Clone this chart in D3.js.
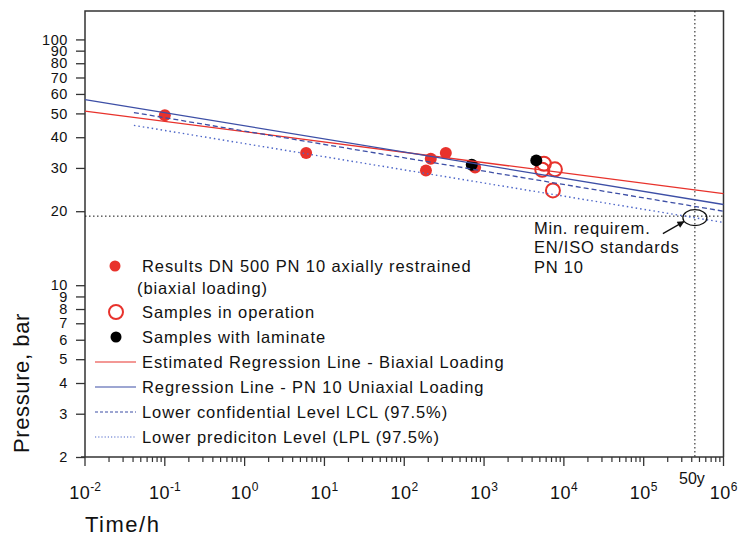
<!DOCTYPE html>
<html><head><meta charset="utf-8">
<script src="https://cdn.jsdelivr.net/npm/d3@7"></script>
<style>body{margin:0;background:#fff}svg{display:block;font-family:"Liberation Sans",Arial,sans-serif}</style>
</head><body><svg id="c" width="750" height="536"></svg>
<script>
// ---- data ----
const yTickValues = [2,3,4,5,6,7,8,9,10,20,30,40,50,60,70,80,90,100];
const xDecades = [-2,-1,0,1,2,3,4,5,6];
const biaxialT = [0.1, 5.9, 215, 332, 187, 772];
const biaxialP = [49.1, 34.5, 32.7, 34.5, 29.3, 30.1];
const operationT = [5620, 5360, 7720, 7290];
const operationP = [31.2, 29.5, 29.6, 24.3];
const laminateT = [701, 4510];
const laminateP = [30.9, 32.2];
const regBiaxialT = [0.01, 1e6], regBiaxialP = [51.1, 23.6];
const regUniaxialT = [0.01, 1e6], regUniaxialP = [56.9, 21.3];
const lclT = [0.041, 1e6], lclP = [50.4, 20.0];
const lplT = [0.041, 1e6], lplP = [44.7, 18.0];
const minRequirement = 19.1;
const fiftyYears = 50 * 8760;
const legendLabels = ["Results DN 500 PN 10 axially restrained", "(biaxial loading)", "Samples in operation",
  "Samples with laminate", "Estimated Regression Line - Biaxial Loading", "Regression Line - PN 10 Uniaxial Loading",
  "Lower confidential Level LCL (97.5%)", "Lower prediciton Level (LPL (97.5%)"];
const annotationLines = ["Min. requirem.", "EN/ISO standards", "PN 10"];

// ---- styles ----
const RED = "#e8322c", BLUE = "#3d4fa6", LBLUE = "#4d66c8", FRAME = "#333";
const L = 85, R = 723.5, T = 11, B = 457;

const svg = d3.select("#c");
const x = d3.scaleLog().domain([0.01, 1e6]).range([L, R]);
const y = d3.scaleLog().domain([2, 130.5]).range([B, T]);

// frame
svg.append("path").attr("d", `M${L},${B}V${T}H${R}V${B}`).attr("fill","none").attr("stroke",FRAME).attr("stroke-width",1.5);
svg.append("line").attr("x1",L-4).attr("x2",R).attr("y1",B).attr("y2",B).attr("stroke",FRAME).attr("stroke-width",1.5);

// y axis
const gy = svg.append("g").attr("transform",`translate(${L},0)`)
  .call(d3.axisLeft(y).tickValues(yTickValues).tickFormat(d3.format("d")).tickSize(9).tickPadding(8));
gy.select(".domain").remove();
gy.selectAll("line").attr("stroke",FRAME).attr("stroke-width",1.3);
gy.selectAll("text").attr("font-size",14.5).attr("letter-spacing",0.6).attr("fill","#111").attr("font-family","Liberation Sans, Arial");

// x axis minor + major ticks
const minor = [];
xDecades.slice(0,-1).forEach(e => { for (let k=2;k<=9;k++) minor.push(k*Math.pow(10,e)); });
const gx = svg.append("g").attr("transform",`translate(0,${B})`);
gx.selectAll("line.mn").data(minor).join("line").attr("x1",d=>x(d)).attr("x2",d=>x(d)).attr("y1",0).attr("y2",5)
  .attr("stroke",FRAME).attr("stroke-width",1.2);
gx.selectAll("line.mj").data(xDecades).join("line").attr("x1",d=>x(Math.pow(10,d))).attr("x2",d=>x(Math.pow(10,d)))
  .attr("y1",0).attr("y2",9).attr("stroke",FRAME).attr("stroke-width",1.3);
const xl = gx.selectAll("text.xl").data(xDecades).join("text").attr("class","xl")
  .attr("x",d=>x(Math.pow(10,d))).attr("y",42).attr("text-anchor","middle").attr("fill","#111");
xl.append("tspan").attr("font-size",18).attr("letter-spacing",0.5).text("10");
xl.append("tspan").attr("font-size",12).attr("dy",-8).text(d=>String(d));

// 50y
svg.append("line").attr("x1",x(fiftyYears)).attr("x2",x(fiftyYears)).attr("y1",T).attr("y2",B)
  .attr("stroke","#111").attr("stroke-width",1).attr("stroke-dasharray","1.5,2.5");
svg.append("text").attr("x",x(fiftyYears)-3).attr("y",B+27).attr("text-anchor","middle").attr("font-size",16).attr("fill","#111").text("50y");

// min requirement horizontal
svg.append("line").attr("x1",L).attr("x2",R).attr("y1",y(minRequirement)).attr("y2",y(minRequirement))
  .attr("stroke","#111").attr("stroke-width",1).attr("stroke-dasharray","1.5,2.5");

// points
svg.selectAll("circle.op").data(operationT).join("circle").attr("cx",d=>x(d)).attr("cy",(d,i)=>y(operationP[i]))
  .attr("r",7).attr("fill","none").attr("stroke",RED).attr("stroke-width",2);
svg.selectAll("circle.bx").data(biaxialT).join("circle").attr("cx",d=>x(d)).attr("cy",(d,i)=>y(biaxialP[i]))
  .attr("r",6).attr("fill",RED);
svg.selectAll("circle.lm").data(laminateT).join("circle").attr("cx",d=>x(d)).attr("cy",(d,i)=>y(laminateP[i]))
  .attr("r",6).attr("fill","#000");

// regression lines
const line = d3.line().x(d=>x(d[0])).y(d=>y(d[1]));
function drawLine(ts, ps, color, dash, w){
  svg.append("path").attr("d", line(ts.map((t,i)=>[t,ps[i]]))).attr("fill","none").attr("stroke",color)
    .attr("stroke-width",w).attr("stroke-dasharray",dash);
}
drawLine(regBiaxialT, regBiaxialP, RED, null, 1.3);
drawLine(regUniaxialT, regUniaxialP, BLUE, null, 1.3);
drawLine(lclT, lclP, BLUE, "5,3", 1.3);
drawLine(lplT, lplP, LBLUE, "1.5,3", 1.4);

// ellipse + arrow + annotation
const ex = x(fiftyYears), ey = y(minRequirement) + 1.5;
svg.append("ellipse").attr("cx",ex).attr("cy",ey).attr("rx",12).attr("ry",8).attr("fill","none").attr("stroke","#111").attr("stroke-width",1.3);
svg.append("defs").append("marker").attr("id","ah").attr("viewBox","0 0 10 10").attr("refX",9).attr("refY",5)
  .attr("markerWidth",9).attr("markerHeight",7).attr("orient","auto").attr("markerUnits","userSpaceOnUse")
  .append("path").attr("d","M0,0L10,5L0,10z").attr("fill","#111");
svg.append("line").attr("x1",ex-32).attr("y1",ey+16).attr("x2",ex-11).attr("y2",ey+4)
  .attr("stroke","#111").attr("stroke-width",1.3).attr("marker-end","url(#ah)");
svg.append("g").selectAll("text").data(annotationLines).join("text").attr("x",ex-161).attr("y",(d,i)=>ey+16+i*19.5)
  .attr("font-size",16.5).attr("letter-spacing",0.8).attr("fill","#111").text(d=>d);

// legend
const lg = svg.append("g");
const rowY = [266, 288, 312, 337, 362, 387, 412, 437];
lg.selectAll("text").data(legendLabels).join("text").attr("x",(d,i)=>i===1?137:142).attr("y",(d,i)=>rowY[i]+6)
  .attr("font-size",16.5).attr("letter-spacing",0.9).attr("fill","#111").text(d=>d);
lg.append("circle").attr("cx",115).attr("cy",rowY[0]).attr("r",5.5).attr("fill",RED);
lg.append("circle").attr("cx",116).attr("cy",rowY[2]).attr("r",7).attr("fill","none").attr("stroke",RED).attr("stroke-width",2);
lg.append("circle").attr("cx",116).attr("cy",rowY[3]).attr("r",5.5).attr("fill","#000");
const lgLines = [[4,RED,null],[5,BLUE,null],[6,BLUE,"3,2"],[7,LBLUE,"1.2,2"]];
lgLines.forEach(([r,c,dsh]) => lg.append("line").attr("x1",95).attr("x2",136).attr("y1",rowY[r]).attr("y2",rowY[r])
  .attr("stroke",c).attr("stroke-width",1.2).attr("stroke-dasharray",dsh));

// axis titles
svg.append("text").attr("x",L).attr("y",532).attr("font-size",22).attr("letter-spacing",1.5).attr("fill","#111").text("Time/h");
svg.append("text").attr("transform","translate(29,383) rotate(-90)").attr("text-anchor","middle")
  .attr("font-size",22).attr("letter-spacing",0.6).attr("fill","#111").text("Pressure, bar");
</script></body></html>
